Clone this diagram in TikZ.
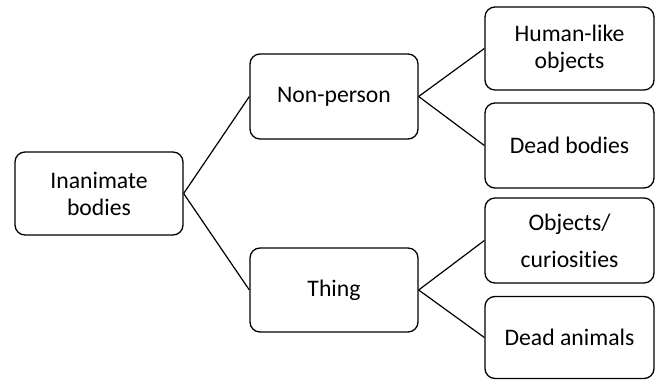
\documentclass[tikz,border=0pt]{standalone}
\usepackage{fontspec}
\setmainfont[Ligatures={NoCommon,NoRare}]{Carlito}
\begin{document}
\begin{tikzpicture}[x=1pt,y=-1pt,
  box/.style={draw=black, line width=1.3pt, rounded corners=10pt, fill=white,
    minimum width=168pt, inner sep=0pt, align=center,
    font=\fontsize{23.7}{27}\selectfont},
  link/.style={draw=black, line width=1.2pt}]
\useasboundingbox (0,0) rectangle (657,380);
\node[box, minimum height=83pt] (ib) at (99,193.5) {Inanimate\\bodies};
\node[box, minimum height=85pt] (np) at (334,96.5) {Non-person};
\node[box, minimum height=84pt] (th) at (334,290) {Thing};
\node[box, minimum width=169pt, minimum height=83pt] (hl) at (569.5,48.5) {Human-like\\objects};
\node[box, minimum width=169pt, minimum height=85pt] (db) at (569.5,145.5) {Dead bodies};
\node[box, minimum width=169pt, minimum height=85pt] (oc) at (569.5,240.5) {Objects/\\[10pt]curiosities};
\node[box, minimum width=169pt, minimum height=82pt] (da) at (569.5,337.5) {Dead animals};
\draw[link] (ib.east) -- (np.west);
\draw[link] (ib.east) -- (th.west);
\draw[link] (np.east) -- (hl.west);
\draw[link] (np.east) -- (db.west);
\draw[link] (th.east) -- (oc.west);
\draw[link] (th.east) -- (da.west);
\end{tikzpicture}
\end{document}
